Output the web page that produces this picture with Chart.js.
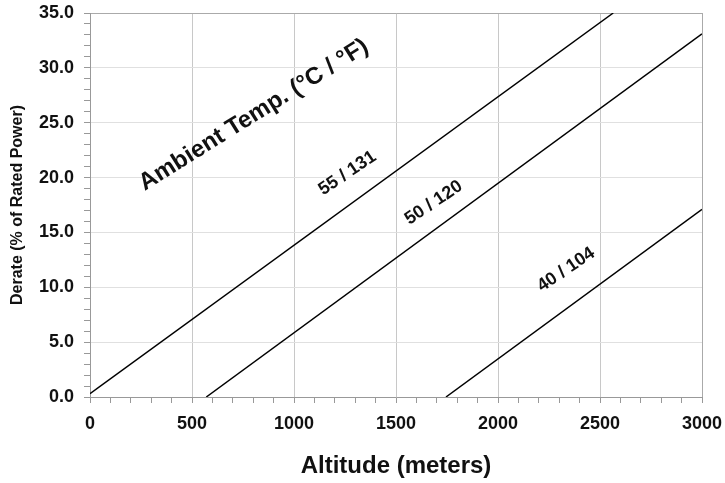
<!DOCTYPE html>
<html>
<head>
<meta charset="utf-8">
<script src="https://cdn.jsdelivr.net/npm/chart.js@4.4.1/dist/chart.umd.min.js"></script>
<style>
  html, body { margin: 0; padding: 0; background: #fff; }
  #wrap { width: 725px; height: 483px; }
</style>
</head>
<body>
<div id="wrap"><canvas id="derateChart" width="725" height="483"></canvas></div>
<script>
// Derate lines (altitude in m, derate in %)
const altitude55 = [0, 2565];
const derate55 = [0.3, 35];
const altitude50 = [570, 3000];
const derate50 = [0, 33.1];
const altitude40 = [1745, 3000];
const derate40 = [0, 17.1];

// axis ranges / tick steps
const xTicks = [0, 500, 1000, 1500, 2000, 2500, 3000];
const yTicks = [0, 5, 10, 15, 20, 25, 30, 35];

// in-plot labels: text, altitude, derate, font size
const noteText = ["Ambient Temp. (°C / °F)", "55 / 131", "50 / 120", "40 / 104"];
const noteAlt = [803, 1262, 1685, 2334];
const noteDerate = [25.7, 20.4, 17.7, 11.6];
const noteSize = [24, 18, 18, 18];

const FONT = "'Liberation Sans', Arial, sans-serif";
const TEXT = '#111';

function toPoints(xs, ys) {
    return xs.map((x, i) => ({ x: x, y: ys[i] }));
}

function lineSet(label, xs, ys) {
    return {
        label: label,
        data: toPoints(xs, ys),
        showLine: true,
        borderColor: '#000',
        borderWidth: 1.5,
        pointRadius: 0,
        fill: false
    };
}

// draws the rotated notes inside the plot
const notesPlugin = {
    id: 'notes',
    afterDatasetsDraw(chart) {
        const ctx = chart.ctx;
        const xs = chart.scales.x, ys = chart.scales.y;
        ctx.save();
        ctx.fillStyle = TEXT;
        ctx.textAlign = 'center';
        ctx.textBaseline = 'middle';
        noteText.forEach((t, i) => {
            ctx.save();
            ctx.translate(xs.getPixelForValue(noteAlt[i]), ys.getPixelForValue(noteDerate[i]));
            ctx.rotate(-(i === 0 ? 32 : 34) * Math.PI / 180);
            ctx.font = 'bold ' + noteSize[i] + 'px ' + FONT;
            ctx.fillText(t, 0, 0);
            ctx.restore();
        });
        ctx.restore();
    }
};

new Chart(document.getElementById('derateChart'), {
    type: 'scatter',
    data: {
        datasets: [
            lineSet('55 / 131', altitude55, derate55),
            lineSet('50 / 120', altitude50, derate50),
            lineSet('40 / 104', altitude40, derate40)
        ]
    },
    options: {
        responsive: false,
        animation: false,
        events: [],
        layout: { padding: { top: 13, right: 23, left: 0, bottom: 0 } },
        plugins: { legend: { display: false }, tooltip: { enabled: false } },
        scales: {
            x: {
                type: 'linear',
                min: xTicks[0],
                max: xTicks[xTicks.length - 1],
                afterFit: s => { s.height = 86; s.paddingLeft = 0; s.paddingRight = 0; },
                border: { color: '#999', width: 1 },
                grid: {
                    color: c => c.tick.value % 500 === 0 ? (c.tick.value === 3000 ? '#aaa' : '#c8c8c8') : 'rgba(0,0,0,0)',
                    tickColor: '#999',
                    tickLength: 6,
                    lineWidth: 1
                },
                ticks: {
                    stepSize: 100,
                    autoSkip: false,
                    maxRotation: 0,
                    padding: 10,
                    color: TEXT,
                    font: { family: FONT, size: 18, weight: 'bold' },
                    callback: v => xTicks.includes(v) ? String(v) : ''
                },
                title: {
                    display: true,
                    text: 'Altitude (meters)',
                    color: TEXT,
                    font: { family: FONT, size: 24, weight: 'bold' },
                    padding: { top: 0, bottom: 2 }
                }
            },
            y: {
                type: 'linear',
                min: yTicks[0],
                max: yTicks[yTicks.length - 1],
                afterFit: s => { s.width = 90; s.paddingTop = 0; s.paddingBottom = 0; },
                border: { color: '#999', width: 1 },
                grid: {
                    color: c => c.tick.value % 5 === 0 ? (c.tick.value === 35 ? '#aaa' : '#e0e0e0') : 'rgba(0,0,0,0)',
                    tickColor: '#999',
                    tickLength: 6,
                    lineWidth: 1
                },
                ticks: {
                    stepSize: 1,
                    autoSkip: false,
                    padding: 10,
                    color: TEXT,
                    font: { family: FONT, size: 18, weight: 'bold' },
                    callback: v => yTicks.includes(v) ? v.toFixed(1) : ''
                },
                title: {
                    display: true,
                    text: 'Derate (% of Rated Power)',
                    color: TEXT,
                    font: { family: FONT, size: 16, weight: 'bold' },
                    padding: { top: 8, bottom: 0 }
                }
            }
        }
    },
    plugins: [notesPlugin]
});
</script>
</body>
</html>
